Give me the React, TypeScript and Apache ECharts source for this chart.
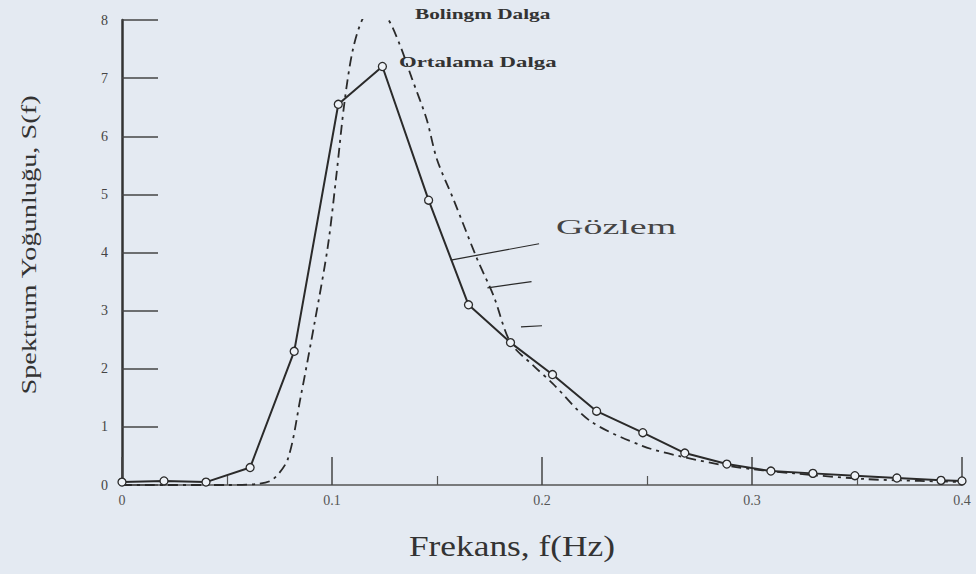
import React, { useEffect, useRef } from "react";
import * as echarts from "echarts";

// Observed (solid line, hollow circles)
const obsFreq = [0, 0.02, 0.04, 0.061, 0.082, 0.103, 0.124, 0.146, 0.165, 0.185, 0.205, 0.226, 0.248, 0.268, 0.288, 0.309, 0.329, 0.349, 0.369, 0.39, 0.4];
const obsS = [0.05, 0.07, 0.05, 0.3, 2.3, 6.55, 7.2, 4.9, 3.1, 2.45, 1.9, 1.27, 0.9, 0.55, 0.36, 0.24, 0.2, 0.16, 0.12, 0.08, 0.07];

// Spectrum model (dash-dot line)
const modelFreq = [0, 0.05, 0.065, 0.072, 0.079, 0.085, 0.092, 0.098, 0.102, 0.106, 0.11, 0.115, 0.12, 0.126, 0.132, 0.138, 0.145, 0.15, 0.158, 0.169, 0.177, 0.185, 0.196, 0.205, 0.223, 0.248, 0.265, 0.29, 0.32, 0.355, 0.38, 0.4];
const modelS = [0, 0, 0.02, 0.1, 0.45, 1.5, 2.85, 4.1, 5.3, 6.6, 7.5, 8.05, 8.18, 8.05, 7.6, 7.0, 6.3, 5.6, 4.9, 3.9, 3.25, 2.45, 2.05, 1.75, 1.1, 0.67, 0.5, 0.32, 0.2, 0.1, 0.07, 0.05];

const xTickLabels = ["0", "0.1", "0.2", "0.3", "0.4"];
const yTickLabels = ["0", "1", "2", "3", "4", "5", "6", "7", "8"];

// Leader lines from the "Gözlem" note (data coordinates)
const leaderFrom = [[0.1566, 3.87], [0.174, 3.39], [0.19, 2.72]];
const leaderTo = [[0.1986, 4.15], [0.195, 3.5], [0.2, 2.74]];

const labelModel = "Bolingm Dalga";
const labelMean = "Ortalama Dalga";
const labelObs = "Gözlem";
const xTitle = "Frekans, f(Hz)";
const yTitle = "Spektrum Yoğunluğu, S(f)";

const SERIF = '"Liberation Serif", "DejaVu Serif", serif';
const INK = "#2a2a2a";

export default function App() {
  const ref = useRef<HTMLDivElement>(null);
  useEffect(() => {
    if (!ref.current) return;
    const chart = echarts.init(ref.current, undefined, { renderer: "svg" });
    const obsData = obsFreq.map((f, i) => [f, obsS[i]]);
    const modelData = modelFreq.map((f, i) => [f, modelS[i]]);
    chart.setOption({
      animation: false,
      backgroundColor: "#e4eaf2",
      grid: { left: 122, right: 14, top: 20, bottom: 89 },
      xAxis: {
        type: "value",
        min: 0,
        max: 0.4,
        interval: 0.1,
        axisLine: { show: true, lineStyle: { color: "#555", width: 1.5 } },
        axisTick: { show: true, inside: true, length: 28, lineStyle: { color: "#444", width: 1.5 } },
        minorTick: { show: true, splitNumber: 2, length: 9, lineStyle: { color: "#555", width: 1.2 } },
        axisLabel: {
          margin: 8,
          color: "#555",
          fontFamily: SERIF,
          fontSize: 14,
          formatter: (v: number) => xTickLabels[Math.round(v / 0.1)] ?? "",
        },
        splitLine: { show: false },
      },
      yAxis: {
        type: "value",
        min: 0,
        max: 8,
        interval: 1,
        axisLine: { show: true, lineStyle: { color: "#333", width: 2.5 } },
        axisTick: { show: true, inside: true, length: 36, lineStyle: { color: "#444", width: 1.5 } },
        axisLabel: {
          margin: 14,
          color: "#444",
          fontFamily: SERIF,
          fontSize: 14,
          formatter: (v: number) => yTickLabels[Math.round(v)] ?? "",
        },
        splitLine: { show: false },
      },
      series: [
        {
          name: labelModel,
          type: "line",
          data: modelData,
          showSymbol: false,
          symbol: "none",
          smooth: 0.3,
          lineStyle: { color: INK, width: 1.8, type: [10, 5, 3, 5] },
          z: 2,
        },
        {
          name: labelObs,
          type: "line",
          data: obsData,
          symbol: "circle",
          symbolSize: 8,
          itemStyle: { color: "#eef2f7", borderColor: INK, borderWidth: 1.3 },
          lineStyle: { color: INK, width: 2 },
          z: 3,
          markLine: {
            silent: true,
            symbol: ["none", "none"],
            label: { show: false },
            lineStyle: { color: INK, width: 1.2, type: "solid" },
            data: leaderFrom.map((p, i) => [{ coord: p }, { coord: leaderTo[i] }]),
          },
        },
      ],
      graphic: [
        {
          type: "text",
          x: 29,
          y: 245,
          rotation: Math.PI / 2,
          scaleX: 1.35,
          style: { text: yTitle, font: `21px ${SERIF}`, fill: "#333", align: "center", verticalAlign: "middle" },
        },
        {
          type: "text",
          x: 512,
          y: 546,
          scaleX: 1.22,
          style: { text: xTitle, font: `29px ${SERIF}`, fill: "#333", align: "center", verticalAlign: "middle" },
        },
        {
          type: "text",
          x: 415,
          y: 14,
          scaleX: 1.42,
          style: { text: labelModel, font: `bold 15px ${SERIF}`, fill: "#333", align: "left", verticalAlign: "middle" },
        },
        {
          type: "text",
          x: 399,
          y: 62,
          scaleX: 1.52,
          style: { text: labelMean, font: `bold 15px ${SERIF}`, fill: "#333", align: "left", verticalAlign: "middle" },
        },
        {
          type: "text",
          x: 556,
          y: 227,
          scaleX: 1.9,
          style: { text: labelObs, font: `20px ${SERIF}`, fill: "#444", align: "left", verticalAlign: "middle" },
        },
      ],
    });
    return () => chart.dispose();
  }, []);
  return <div ref={ref} style={{ position: "fixed", left: 0, top: 0, width: 976, height: 574 }} />;
}
